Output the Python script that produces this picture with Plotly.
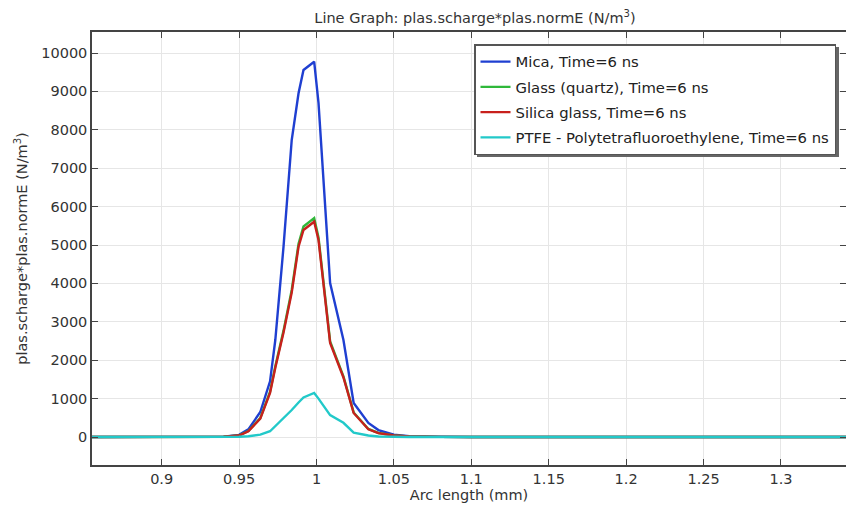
import plotly.graph_objects as go

arc_length = [0.855, 0.9, 0.93, 0.94, 0.95, 0.956, 0.9637, 0.970, 0.9734, 0.9787, 0.984,
              0.9884, 0.9916, 0.9985, 1.0013, 1.0088, 1.0174, 1.024, 1.0335, 1.04, 1.05,
              1.06, 1.08, 1.1, 1.2, 1.3, 1.342]

mica = [0, 0, 2, 10, 55, 200, 650, 1450, 2526, 4956, 7734,
        8950, 9557, 9773, 8700, 4010, 2526, 885, 365, 180, 60,
        20, 5, 0, 0, 0, 0]
glass_quartz = [0, 0, 1, 8, 42, 155, 495, 1180, 1840, 2770, 3830,
                5030, 5480, 5700, 5200, 2490, 1580, 640, 210, 105, 42,
                15, 4, 0, 0, 0, 0]
silica_glass = [0, 0, 1, 8, 40, 150, 480, 1150, 1806, 2720, 3760,
                4956, 5390, 5607, 5130, 2448, 1550, 625, 200, 100, 40,
                14, 4, 0, 0, 0, 0]
ptfe = [0, 0, 0, 1, 5, 20, 60, 150, 280, 500, 703,
        900, 1030, 1146, 1000, 570, 370, 115, 40, 15, 5,
        2, 0, 0, 0, 0, 0]

series_names = ["Mica, Time=6 ns", "Glass (quartz), Time=6 ns", "Silica glass, Time=6 ns",
                "PTFE - Polytetrafluoroethylene, Time=6 ns"]
series_values = [mica, glass_quartz, silica_glass, ptfe]
colors = ["#1f3fd1", "#2fb83a", "#c8201c", "#22c9c9"]

x_ticks = [0.9, 0.95, 1, 1.05, 1.1, 1.15, 1.2, 1.25, 1.3]
x_tick_labels = ["0.9", "0.95", "1", "1.05", "1.1", "1.15", "1.2", "1.25", "1.3"]
y_ticks = [0, 1000, 2000, 3000, 4000, 5000, 6000, 7000, 8000, 9000, 10000]
y_tick_labels = [str(v) for v in y_ticks]

fig = go.Figure()
for i, (name, vals, col) in enumerate(zip(series_names, series_values, colors)):
    fig.add_trace(go.Scatter(x=arc_length, y=vals, mode="lines", name=name,
                             legendgroup=f"g{i}",
                             line=dict(color=col, width=2.4)))

font = "DejaVu Sans"
L, T, B = 92, 32, 43
W, H = 846, 508
pw, ph = W - L, H - T - B

def px_x(p):
    return (p - L) / pw

def px_y(p):
    return (H - B - p) / ph

# legend drop shadow
fig.add_shape(type="rect", xref="paper", yref="paper",
              x0=px_x(477), x1=px_x(839), y0=px_y(157), y1=px_y(47),
              fillcolor="#666666", line=dict(width=0), layer="above")

fig.update_layout(
    width=W, height=H,
    margin=dict(l=L, r=0, t=T, b=B, autoexpand=False),
    paper_bgcolor="white", plot_bgcolor="white",
    font=dict(family=font, size=14.5, color="#333333"),
    title=dict(text="Line Graph: plas.scharge*plas.normE (N/m<sup>3</sup>)",
               x=px_x(475), xanchor="center", xref="paper", y=0.975, yanchor="top",
               font=dict(size=14.5, color="#333333")),
    showlegend=True,
    legend=dict(x=px_x(474), y=px_y(44), xanchor="left", yanchor="top",
                bgcolor="white", bordercolor="#555555", borderwidth=1.5,
                font=dict(size=14.8, color="#222222"), tracegroupgap=3),
)
fig.update_xaxes(range=[0.855, 1.342], tickvals=x_ticks, ticktext=x_tick_labels,
                 showgrid=True, gridcolor="#e6e6e6", gridwidth=1,
                 showline=True, linecolor="#444444", linewidth=1.5, mirror="ticks",
                 ticks="inside", ticklen=6, tickcolor="#444444",
                 zeroline=False, automargin=False,
                 title=dict(text="Arc length (mm)", standoff=2, font=dict(size=14.5)))
fig.update_yaxes(range=[-729, 10547], tickvals=y_ticks, ticktext=y_tick_labels,
                 showgrid=True, gridcolor="#e6e6e6", gridwidth=1,
                 showline=True, linecolor="#444444", linewidth=1.5, mirror="ticks",
                 ticks="inside", ticklen=6, tickcolor="#444444",
                 zeroline=False, automargin=False,
                 title=dict(text="plas.scharge*plas.normE (N/m<sup>3</sup>)", standoff=10,
                            font=dict(size=14.5)))

fig.write_html("out.html", config={"displayModeBar": False},
               post_script="document.body.style.margin='0';document.body.style.overflow='hidden';")
